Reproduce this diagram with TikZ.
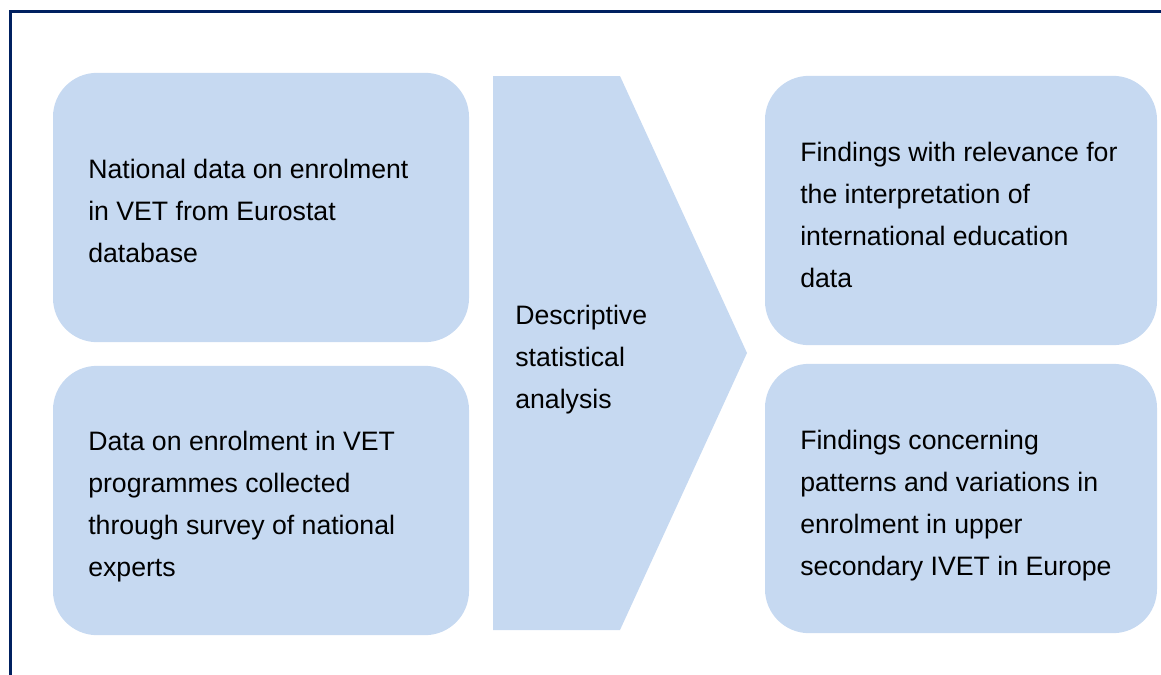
\documentclass[tikz,border=0pt]{standalone}
\usepackage{fontspec}
\setmainfont{Liberation Sans}
\definecolor{boxblue}{HTML}{C6D9F1}
\definecolor{framenavy}{HTML}{002060}

\begin{document}
\begin{tikzpicture}[x=0.75pt,y=-0.75pt,
		every node/.style={font=\fontsize{20}{31.5}\selectfont},
		box/.style={fill=boxblue,rounded corners=33pt,inner sep=0pt},
		leftbox/.style={box,minimum width=312pt,minimum height=202pt},
		rightbox/.style={box,minimum width=294pt,minimum height=202pt},
		txt/.style={anchor=west,align=left,inner sep=0pt}]
	
	\useasboundingbox (0,0) rectangle (1161,675);
	\draw[framenavy,line width=2.25pt] (10.5,690) -- (10.5,11.7) -- (1175,11.7);
	
	% sources
	\node[leftbox] (nat) at (261,207.5) {};
	\node[leftbox] (srv) at (261,500.5) {};
	\node[txt] (natlbl) at (88,211) {National data on enrolment\\in VET from Eurostat\\database};
	\node[txt] (srvlbl) at (88,507) {Data on enrolment in VET\\programmes collected\\through survey of national\\experts};
	
	% analysis
	\fill[boxblue] (493,76) coordinate (an) -- (620,76) -- (747,353) coordinate (tip) -- (620,630) -- (493,630) -- cycle;
	\node[txt] (anlbl) at (515,360) {Descriptive\\statistical\\analysis};
	
	% findings
	\node[rightbox] (intl) at (961,210.5) {};
	\node[rightbox] (ivet) at (961,498.5) {};
	\node[txt] (intllbl) at (800,214.5) {Findings with relevance for\\the interpretation of\\international education\\data};
	\node[txt] (ivetlbl) at (800,505.5) {Findings concerning\\patterns and variations in\\enrolment in upper\\secondary IVET in Europe};
\end{tikzpicture}
\end{document}
